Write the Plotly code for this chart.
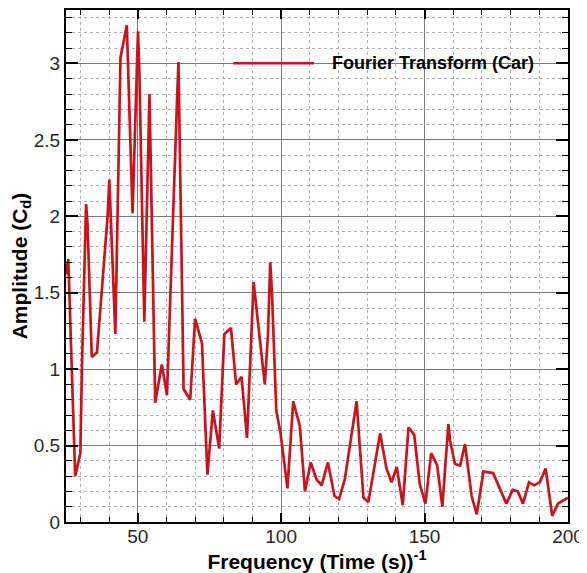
import plotly.graph_objects as go

freq = [25.0, 25.8, 28.2, 30.0, 30.6, 32.0, 32.5, 34.0, 35.8, 39.5, 40.1, 42.2, 44.0, 46.2,
        48.2, 49.0, 50.1, 50.6, 52.3, 54.1, 56.1, 58.4, 60.2, 63.6, 64.2, 66.0, 68.3, 70.0,
        72.4, 74.3, 76.2, 78.4, 80.2, 82.5, 84.3, 86.2, 88.1, 90.4, 94.3, 95.4, 96.2, 96.8,
        98.3, 99.8, 102.2, 104.2, 106.5, 108.3, 110.3, 112.3, 114.1, 116.3, 118.6, 120.2,
        122.2, 126.3, 128.7, 130.4, 134.5, 136.7, 138.5, 140.3, 142.4, 144.4, 146.4, 148.3,
        150.3, 152.3, 154.4, 156.2, 158.3, 158.9, 160.6, 162.4, 164.1, 166.4, 168.2, 170.5,
        173.9, 178.5, 180.7, 182.5, 184.3, 186.4, 188.2, 190.2, 192.2, 194.5, 196.5, 200.0]
amplitude = [1.62, 1.72, 0.30, 0.45, 1.05, 2.08, 1.95, 1.08, 1.11, 2.00, 2.24, 1.23, 3.04, 3.25,
             2.02, 2.55, 3.21, 2.93, 1.31, 2.80, 0.78, 1.03, 0.83, 2.70, 3.01, 0.87, 0.80, 1.33,
             1.17, 0.31, 0.73, 0.48, 1.23, 1.27, 0.90, 0.95, 0.55, 1.57, 0.90, 1.22, 1.70, 1.50,
             0.73, 0.58, 0.22, 0.79, 0.63, 0.20, 0.39, 0.28, 0.24, 0.39, 0.17, 0.15,
             0.28, 0.79, 0.16, 0.13, 0.58, 0.35, 0.26, 0.36, 0.11, 0.62, 0.57, 0.25,
             0.12, 0.45, 0.37, 0.10, 0.64, 0.53, 0.38, 0.37, 0.51, 0.17, 0.05, 0.33,
             0.32, 0.12, 0.21, 0.20, 0.12, 0.26, 0.24, 0.26, 0.35, 0.04, 0.12, 0.16]

series_name = "Fourier Transform (Car)"
x_title = "<b>Frequency (Time (s))<sup>-1</sup></b>"
y_title = "<b>Amplitude (C<sub>d</sub>)</b>"

RED = "#c8141e"
FONT = "Liberation Sans, Arial, sans-serif"

fig = go.Figure()
fig.add_trace(go.Scatter(x=freq, y=amplitude, mode="lines", name=series_name,
                         line=dict(color=RED, width=2.7), showlegend=False))

axis_common = dict(
    showline=True, linecolor="black", linewidth=2, mirror="allticks",
    ticks="inside", tickcolor="black", tickwidth=2, automargin=False,
    showgrid=True, gridcolor="#7a7a7a", gridwidth=1, zeroline=False,
    tickfont=dict(family=FONT, size=19, color="#2a2a2a"),
)

fig.update_xaxes(range=[25, 200], tick0=0, dtick=50, ticklen=9, ticklabelstandoff=-4,
                 minor=dict(dtick=10, ticks="inside", ticklen=5, tickcolor="black", tickwidth=1,
                            showgrid=True, gridcolor="#b0b0b0", griddash="dot", gridwidth=1),
                 title=dict(text=x_title, font=dict(family=FONT, size=21, color="black"), standoff=0),
                 **axis_common)
fig.update_yaxes(range=[0, 3.35], tick0=0, dtick=0.5, ticklen=12,
                 minor=dict(dtick=0.1, ticks="inside", ticklen=6, tickcolor="black", tickwidth=1,
                            showgrid=True, gridcolor="#b0b0b0", griddash="dot", gridwidth=1),
                 title=dict(text=y_title, font=dict(family=FONT, size=21, color="black"), standoff=3),
                 **axis_common)

# legend box drawn manually (white background over grid, long line sample)
fig.add_shape(type="rect", xref="paper", yref="paper", x0=0.267, x1=0.996, y0=0.826, y1=0.994,
              fillcolor="white", line=dict(width=0), layer="between")
fig.add_shape(type="line", xref="paper", yref="paper", x0=0.333, x1=0.494, y0=0.896, y1=0.896,
              line=dict(color=RED, width=2.7), layer="above")
fig.add_annotation(text="<b>" + series_name + "</b>", xref="paper", yref="paper",
                   x=0.526, y=0.896, xanchor="left", yanchor="middle", showarrow=False,
                   font=dict(family=FONT, size=18, color="black"))

# page body has an 8px default margin, so the figure is shrunk/shifted to match the 587x573 frame
fig.update_layout(
    width=579, height=565,
    margin=dict(l=58, r=19, t=2, b=51),
    paper_bgcolor="white", plot_bgcolor="white",
    font=dict(family=FONT),
)

fig.write_html("out.html")
